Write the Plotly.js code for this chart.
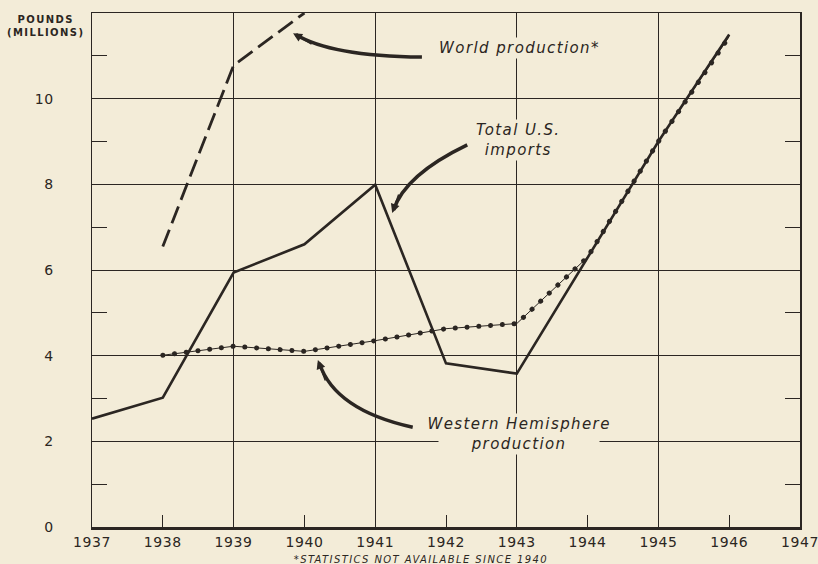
<!DOCTYPE html>
<html>
<head>
<meta charset="utf-8">
<script src="https://cdn.plot.ly/plotly-3.0.1.min.js"></script>
<style>
html,body{margin:0;padding:0;background:#f3ecd8;}
#chart{width:818px;height:564px;}
#chart .annotation-text{letter-spacing:1.4px;}
#chart .xtick text, #chart .ytick text{letter-spacing:0.6px;}
#chart .cartesianlayer .subplot.xy .scatterlayer .trace:nth-child(3) path.js-line{stroke-linecap:round;}
</style>
</head>
<body>
<div id="chart"></div>
<script>
// ---- data (millions of pounds) ----
const years = [1937, 1938, 1939, 1940, 1941, 1942, 1943, 1944, 1945, 1946];
const usImports = [2.53, 3.02, 5.94, 6.6, 7.99, 3.82, 3.58, 6.3, 9.0, 11.5];
const whYears = [1938, 1939, 1940, 1941, 1942, 1943, 1944, 1945, 1946];
const westernHemisphere = [4.01, 4.22, 4.1, 4.35, 4.63, 4.75, 6.3, 9.0, 11.45];
const worldYears = [1938, 1939, 1940];
const worldProduction = [6.55, 10.78, 12.0];
const xTickYears = [1937, 1938, 1939, 1940, 1941, 1942, 1943, 1944, 1945, 1946, 1947];
const gridYears = [1939, 1941, 1943, 1945];
const yTicks = [0, 2, 4, 6, 8, 10];
const yMinor = [1, 3, 5, 7, 9, 11];

const INK = '#2b2622';
const BG = '#f3ecd8';
const FONT = 'DejaVu Sans, sans-serif';

const traces = [
  { x: years, y: usImports, type: 'scatter', mode: 'lines', name: 'Total U.S. imports',
    line: { color: INK, width: 2.6 }, xaxis: 'x', yaxis: 'y' },
  { x: whYears, y: westernHemisphere, type: 'scatter', mode: 'lines', name: 'Western Hemisphere production',
    line: { color: INK, width: 1 }, xaxis: 'x', yaxis: 'y' },
  { x: whYears, y: westernHemisphere, type: 'scatter', mode: 'lines', name: 'Western Hemisphere dots',
    line: { color: INK, width: 5, dash: '0.1px,11.7px' }, xaxis: 'x', yaxis: 'y' },
  { x: worldYears, y: worldProduction, type: 'scatter', mode: 'lines', name: 'World production',
    line: { color: INK, width: 2.8, dash: '18px,7px' }, xaxis: 'x2', yaxis: 'y2' }
];

const italic = { family: FONT, size: 15, color: INK, style: 'italic' };

const layout = {
  width: 818, height: 564,
  paper_bgcolor: BG, plot_bgcolor: BG,
  margin: { l: 92, r: 18, t: 13, b: 37 },
  showlegend: false, hovermode: false,
  font: { family: FONT, color: INK },
  xaxis: {
    range: [1937, 1947], tickmode: 'array', tickvals: xTickYears,
    ticktext: xTickYears.map(String),
    ticks: 'inside', ticklen: 12, tickwidth: 1, tickcolor: INK,
    showgrid: false, zeroline: false,
    showline: true, linewidth: 3, linecolor: INK,
    tickfont: { family: FONT, size: 14, color: INK }
  },
  xaxis2: {
    overlaying: 'x', anchor: 'y2', side: 'top',
    range: [1937, 1947], tickmode: 'array', tickvals: gridYears,
    showticklabels: false, ticks: '',
    showgrid: true, gridcolor: INK, gridwidth: 1, zeroline: false,
    showline: true, linewidth: 1.5, linecolor: INK
  },
  yaxis: {
    range: [0, 12], tickmode: 'array', tickvals: yTicks,
    ticktext: yTicks.map(String), ticks: '',
    showgrid: true, gridcolor: INK, gridwidth: 1, zeroline: false,
    showline: true, linewidth: 1.5, linecolor: INK,
    ticklabelstandoff: 34,
    tickfont: { family: FONT, size: 14, color: INK },
    minor: { tickmode: 'array', tickvals: yMinor, ticks: 'inside', ticklen: 15, tickwidth: 1, tickcolor: INK, showgrid: false }
  },
  yaxis2: {
    overlaying: 'y', anchor: 'x2', side: 'right',
    range: [0, 12], tickmode: 'array', tickvals: yMinor,
    showticklabels: false, ticks: 'inside', ticklen: 15, tickwidth: 1, tickcolor: INK,
    showgrid: false, zeroline: false,
    showline: true, linewidth: 1.5, linecolor: INK
  },
  shapes: [
    { type: 'path', xref: 'x', yref: 'y', path: 'M 1941.66,10.97 Q 1940.36,11.0 1939.88,11.5',
      line: { color: INK, width: 3.5 } },
    { type: 'path', xref: 'x', yref: 'y', path: 'M 1942.3,8.92 Q 1941.42,8.22 1941.26,7.4',
      line: { color: INK, width: 3.5 } },
    { type: 'path', xref: 'x', yref: 'y', path: 'M 1941.53,2.33 Q 1940.43,2.73 1940.21,3.83',
      line: { color: INK, width: 3.5 } }
  ],
  annotations: [
    { xref: 'x', yref: 'y', x: 1939.84, y: 11.53, ax: 20, ay: 12, text: '', showarrow: true,
      arrowhead: 2, arrowsize: 1.2, arrowwidth: 1.5, arrowcolor: INK },
    { xref: 'x', yref: 'y', x: 1941.24, y: 7.33, ax: 7, ay: -20, text: '', showarrow: true,
      arrowhead: 2, arrowsize: 1.2, arrowwidth: 1.5, arrowcolor: INK },
    { xref: 'x', yref: 'y', x: 1940.19, y: 3.9, ax: 8, ay: 22, text: '', showarrow: true,
      arrowhead: 2, arrowsize: 1.2, arrowwidth: 1.5, arrowcolor: INK },
    { xref: 'x', yref: 'y', x: 1943.05, y: 11.18, text: 'World production*', showarrow: false,
      xanchor: 'center', yanchor: 'middle', font: italic, bgcolor: BG, borderpad: 1 },
    { xref: 'x', yref: 'y', x: 1943.03, y: 9.04, text: 'Total U.S.<br>imports', showarrow: false,
      xanchor: 'center', yanchor: 'middle', font: italic, bgcolor: BG, borderpad: 1 },
    { xref: 'x', yref: 'y', x: 1943.03, y: 2.17, text: 'Western Hemisphere<br>production', showarrow: false,
      xanchor: 'center', yanchor: 'middle', font: italic, bgcolor: BG, borderpad: 1 },
    { xref: 'paper', yref: 'paper', x: -0.065, y: 0.975, xanchor: 'center', yanchor: 'middle',
      text: 'POUNDS<br>(MILLIONS)', showarrow: false,
      font: { family: FONT, size: 10, color: INK, weight: 'bold' } },
    { xref: 'paper', yref: 'paper', x: 0.465, y: -0.064, xanchor: 'center', yanchor: 'middle',
      text: '*STATISTICS NOT AVAILABLE SINCE 1940',
      showarrow: false, font: { family: FONT, size: 10, color: INK, style: 'italic' } }
  ]
};

Plotly.newPlot('chart', traces, layout, { staticPlot: true, displayModeBar: false });
</script>
</body>
</html>
